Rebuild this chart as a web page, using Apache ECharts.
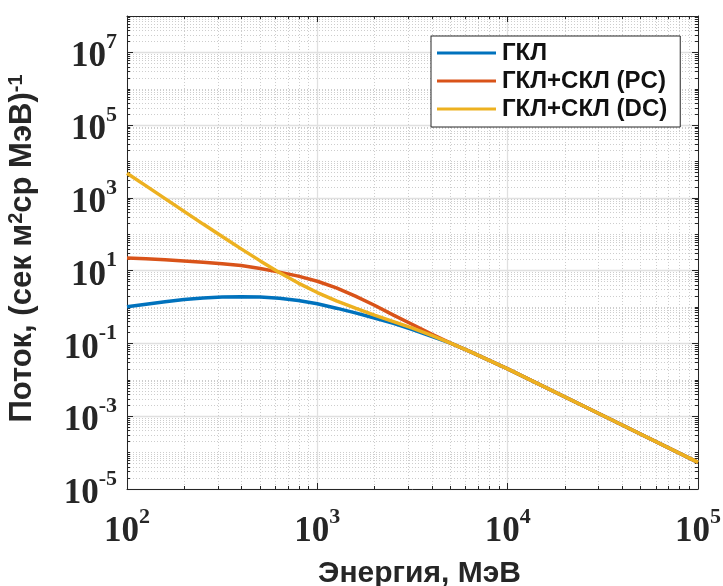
<!DOCTYPE html>
<html>
<head>
<meta charset="utf-8">
<script src="https://cdn.jsdelivr.net/npm/echarts@6/dist/echarts.min.js"></script>
<style>html,body{margin:0;padding:0;background:#fff;}#c{width:723px;height:586px;}</style>
</head>
<body>
<div id="c"></div>
<script>
// Energies (MeV)
var energy = [100,125.9,158.5,199.5,251.2,316.2,398.1,501.2,631,794.3,1000,1259,1585,1995,2512,3162,3981,5012,6310,7943,10000,31623,100000];
// Flux values
var fluxGCR = [1.02,1.20,1.41,1.62,1.78,1.88,1.93,1.88,1.74,1.51,1.23,0.933,0.692,0.501,0.355,0.240,0.158,0.102,0.0603,0.0347,0.0200,0.00105,5.4e-5];
var fluxPC  = [22.4,21.4,20.0,18.6,17.0,15.5,13.8,11.5,9.12,7.08,5.13,3.39,2.00,1.12,0.603,0.331,0.182,0.102,0.0603,0.0347,0.0200,0.00105,5.4e-5];
var fluxDC  = [4786,2138,955,427,191,87.1,39.8,18.6,8.91,4.57,2.51,1.48,0.933,0.603,0.398,0.263,0.166,0.102,0.0603,0.0347,0.0200,0.00105,5.4e-5];
var seriesNames = ['ГКЛ','ГКЛ+СКЛ (PC)','ГКЛ+СКЛ (DC)'];
var seriesColors = ['#0072BD','#D95319','#EDB120'];

var xMajorTicks = [100,1000,10000,100000];
var yMajorTicks = [1e-5,1e-3,1e-1,1e1,1e3,1e5,1e7];
var xMinorTicks = [];
[100,1000,10000].forEach(function(d){ for(var k=2;k<=9;k++) xMinorTicks.push(k*d); });
var yMinorTicks = [];
for (var n=-5;n<=7;n++){
  var d = Math.pow(10,n);
  if (n%2===0) yMinorTicks.push(d);
  for (var k=2;k<=9;k++) yMinorTicks.push(k*d);
}

var chart = echarts.init(document.getElementById('c'), null, {renderer:'canvas'});
function pairs(vals){ return energy.map(function(e,i){ return [e, vals[i]]; }); }
var axisCol = '#262626';
var rich = {
  b:{fontFamily:'Liberation Serif', fontWeight:'bold', fontSize:35, color:'#262626', lineHeight:42, padding:[10,0,0,0]},
  s:{fontFamily:'Liberation Serif', fontWeight:'bold', fontSize:22, color:'#262626', verticalAlign:'top', lineHeight:22}
};
function fmt(v){ var e = Math.round(Math.log10(v)); return '{b|10}{s|' + e + '}'; }
var gridRect = {left:127, right:25, top:16, bottom:97, containLabel:false, outerBoundsMode:'none'};

function mkAxis(gridIndex, pos, ticks, len, showLine, labels, split, splitStyle, extra){
  var a = {
    type:'log', logBase:10, gridIndex:gridIndex, position:pos,
    axisLine:{show:showLine, lineStyle:{color:axisCol, width:1}},
    axisTick:{show:true, inside:true, length:len, customValues:ticks, lineStyle:{color:axisCol, width:1}},
    axisLabel:labels ? {show:true, customValues:ticks, formatter:fmt, rich:rich, margin:labels} : {show:false},
    splitLine:{show:split, lineStyle:splitStyle},
    minorTick:{show:false}, minorSplitLine:{show:false}
  };
  for (var k in extra) a[k] = extra[k];
  return a;
}
var majorSplit = {color:'#e0e0e0', width:1.3, type:'solid'};
var minorSplit = {color:'#cdcdcd', width:1, type:[1,2]};
var xr = {min:100, max:100000};
var yr = {min:1e-5, max:1e8};
function ext(a,b){ var o={}; for(var k in a) o[k]=a[k]; for(var k2 in b) o[k2]=b[k2]; return o; }

var nameFont = {fontFamily:'Liberation Sans', fontWeight:'bold', color:'#262626'};
var option = {
  animation:false,
  backgroundColor:'#ffffff',
  grid:[ext(gridRect,{}), ext(gridRect,{})],
  xAxis:[
    mkAxis(0,'bottom',xMajorTicks,6,true,17,true,majorSplit, ext(xr,{
      name:'Энергия, МэВ', nameLocation:'middle', nameGap:70,
      nameTextStyle:ext(nameFont,{fontSize:30, padding:[0,0,0,14]})
    })),
    mkAxis(0,'top',xMajorTicks,6,true,false,false,majorSplit, ext(xr,{})),
    mkAxis(1,'bottom',xMinorTicks,3,false,false,true,minorSplit, ext(xr,{})),
    mkAxis(1,'top',xMinorTicks,3,false,false,false,minorSplit, ext(xr,{}))
  ],
  yAxis:[
    mkAxis(0,'left',yMajorTicks,6,true,10,true,majorSplit, ext(yr,{
      name:'{m|Поток, (сек м}{sup|2}{m|ср МэВ)}{sup|-1}', nameLocation:'middle', nameGap:82, nameRotate:90,
      nameTextStyle:ext(nameFont,{fontSize:31, padding:[0,0,0,8],
        rich:{
          m:ext(nameFont,{fontSize:31, lineHeight:31, verticalAlign:'bottom'}),
          sup:ext(nameFont,{fontSize:20, lineHeight:20, verticalAlign:'top', padding:[0,0,26,0]})
        }})
    })),
    mkAxis(0,'right',yMajorTicks,6,true,false,false,majorSplit, ext(yr,{})),
    mkAxis(1,'left',yMinorTicks,3,false,false,true,minorSplit, ext(yr,{})),
    mkAxis(1,'right',yMinorTicks,3,false,false,false,minorSplit, ext(yr,{}))
  ],
  legend:{
    show:true, data:seriesNames, orient:'vertical', left:431, top:36,
    icon:'rect', itemWidth:59, itemHeight:3, itemGap:4,
    padding:[5,13,6,6], borderColor:axisCol, borderWidth:1, backgroundColor:'#fff',
    textStyle:{fontFamily:'Liberation Sans', fontWeight:'bold', fontSize:24, color:'#111', padding:[0,0,0,1]}
  },
  series:[fluxGCR, fluxPC, fluxDC].map(function(v,i){
    return {
      name:seriesNames[i], type:'line', xAxisIndex:0, yAxisIndex:0,
      data:pairs(v), showSymbol:false, symbol:'none', smooth:false,
      lineStyle:{color:seriesColors[i], width:3.5}, itemStyle:{color:seriesColors[i]}, z:3+i
    };
  })
};
chart.setOption(option);
</script>
</body>
</html>
